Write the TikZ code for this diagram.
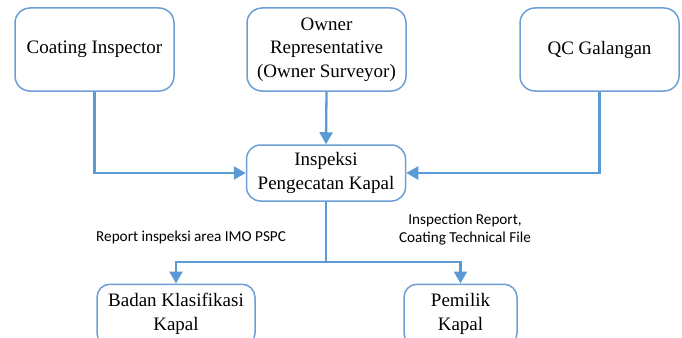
\documentclass[tikz,border=0pt]{standalone}
\usepackage{fontspec}
\setmainfont{Liberation Serif}
\newfontfamily\labfont{Carlito}
\usetikzlibrary{arrows.meta}
\definecolor{lineblue}{HTML}{5B9BD5}
\definecolor{boxblue}{HTML}{6D9ED6}
\tikzset{
  box/.style={draw=boxblue, line width=1.5pt, rounded corners=15pt, align=center,
    inner sep=2pt, font=\fontsize{19}{23.5}\selectfont},
  arr/.style={draw=lineblue, line width=2.3pt,
    -{Triangle[length=12pt,width=13pt]}},
  lab/.style={font=\labfont\fontsize{15.2}{18.5}\selectfont, align=center, inner sep=0pt}
}
\begin{document}
\begin{tikzpicture}[x=1pt,y=-1pt]
\useasboundingbox (0,0) rectangle (682,337);
\clip (0,0) rectangle (682,337);
\node[box, minimum width=159pt, minimum height=83pt] (ci) at (94.5,49.5) {Coating Inspector};
\node[box, minimum width=159pt, minimum height=83pt] (or) at (326.5,49.5) {Owner\\Representative\\(Owner Surveyor)};
\node[box, minimum width=159pt, minimum height=83pt] (qc) at (599.5,49.5) {QC Galangan};
\node[box, minimum width=159pt, minimum height=56pt, rounded corners=14pt] (ip) at (326,173) {Inspeksi\\Pengecatan Kapal};
\node[box, minimum width=158pt, minimum height=62pt, rounded corners=13pt, anchor=north] (bk) at (176,283.5) {Badan Klasifikasi\\Kapal\strut};
\node[box, minimum width=113pt, minimum height=62pt, rounded corners=13pt, anchor=north] (pk) at (460.5,283.5) {Pemilik\\Kapal\strut};
\coordinate (j) at (326,262);
\draw[arr] (ci.south) |- (ip.west);
\draw[arr] (or.south) -- (ip.north);
\draw[arr] (qc.south) |- (ip.east);
\draw[draw=lineblue, line width=2.3pt] (ip.south) -- (j);
\draw[arr] (j) -| (bk.north);
\draw[arr] (j) -| (pk.north);
\node[lab, anchor=west] (l1) at (96,237.5) {Report inspeksi area IMO PSPC};
\node[lab] (l2) at (465,229.5) {Inspection Report,\\Coating Technical File};
\end{tikzpicture}
\end{document}
